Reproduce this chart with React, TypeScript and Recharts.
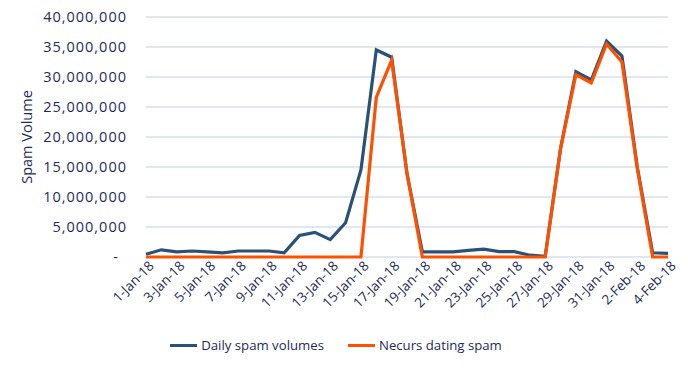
import React from 'react'
import { ComposedChart, Line, XAxis, YAxis, CartesianGrid, Legend } from 'recharts'

const BLUE = '#2a5276'
const ORANGE = '#ff5000'
const GRID = '#d5e1ee'
const TEXT = '#1c2b5a'
const FONT = '"Open Sans", sans-serif'

const DATES = [
  '1-Jan-18', '2-Jan-18', '3-Jan-18', '4-Jan-18', '5-Jan-18', '6-Jan-18', '7-Jan-18',
  '8-Jan-18', '9-Jan-18', '10-Jan-18', '11-Jan-18', '12-Jan-18', '13-Jan-18', '14-Jan-18',
  '15-Jan-18', '16-Jan-18', '17-Jan-18', '18-Jan-18', '19-Jan-18', '20-Jan-18', '21-Jan-18',
  '22-Jan-18', '23-Jan-18', '24-Jan-18', '25-Jan-18', '26-Jan-18', '27-Jan-18', '28-Jan-18',
  '29-Jan-18', '30-Jan-18', '31-Jan-18', '1-Feb-18', '2-Feb-18', '3-Feb-18', '4-Feb-18',
]

// daily spam volumes
const DAILY = [
  450000, 1200000, 850000, 1000000, 850000, 700000, 1000000,
  1000000, 1000000, 700000, 3600000, 4100000, 2900000, 5700000,
  14500000, 34500000, 33300000, 13900000, 850000, 850000, 850000,
  1100000, 1300000, 900000, 900000, 300000, 100000, 18100000,
  30900000, 29500000, 36000000, 33500000, 15000000, 700000, 600000,
]

// Necurs dating spam
const NECURS = [
  0, 0, 0, 0, 0, 0, 0,
  0, 0, 0, 0, 0, 0, 0,
  0, 26600000, 32800000, 13900000, 0, 0, 0,
  0, 0, 0, 0, 0, 0, 18000000,
  30400000, 29000000, 35500000, 32500000, 14700000, 0, 0,
]

const Y_TICKS = [0, 5000000, 10000000, 15000000, 20000000, 25000000, 30000000, 35000000, 40000000]

const data = DATES.map((d, i) => ({ date: d, daily: DAILY[i], necurs: NECURS[i] }))

function YTick({ x, y, payload }: any) {
  const v = payload.value as number
  const label = v === 0 ? '-' : v.toLocaleString('en-US')
  return (
    <text x={v === 0 ? x - 8 : x} y={y} dy="0.35em" textAnchor="end" letterSpacing={1}
      fill={TEXT} fontSize={14.5} fontFamily={FONT}>
      {label}
    </text>
  )
}

function XTick({ x, y, payload }: any) {
  return (
    <g transform={`translate(${x},${y})`}>
      <text x={5} y={-2} dy="0.7em" textAnchor="end" transform="rotate(-45)"
        fill={TEXT} fontSize={13.5} fontFamily={FONT}>
        {payload.value}
      </text>
    </g>
  )
}

function LegendBox() {
  const items = [
    { name: 'Daily spam volumes', color: BLUE },
    { name: 'Necurs dating spam', color: ORANGE },
  ]
  return (
    <div style={{ display: 'flex', justifyContent: 'center', gap: 24, fontFamily: FONT, fontSize: 13.2, color: TEXT, paddingLeft: 4 }}>
      {items.map((it) => (
        <span key={it.name} style={{ display: 'flex', alignItems: 'center', gap: 4 }}>
          <span style={{ display: 'inline-block', width: 27, height: 3, background: it.color }} />
          {it.name}
        </span>
      ))}
    </div>
  )
}

export default function App() {
  return (
    <div style={{ position: 'absolute', left: 0, top: 0, background: '#fff' }}>
      <ComposedChart width={688} height={368} data={data}
        margin={{ top: 17, right: 20, left: 0, bottom: 11 }}>
        {/* grid line at 0 doubles as the x axis line, kept under the series */}
        <CartesianGrid vertical={false} stroke={GRID} strokeWidth={1.5} />
        <XAxis dataKey="date" interval={1} tickLine={false} axisLine={false}
          height={70} tick={<XTick />} />
        <YAxis width={146} domain={[0, 40000000]} ticks={Y_TICKS} axisLine={false} tickLine={false}
          tickMargin={13} tick={<YTick />}
          label={{ value: 'Spam Volume', angle: -90, position: 'insideLeft', offset: 27,
            style: { fill: TEXT, fontSize: 14.5, fontFamily: FONT, textAnchor: 'middle' } }} />
        <Legend verticalAlign="bottom" height={30} content={<LegendBox />} wrapperStyle={{ bottom: 2 }} />
        <Line dataKey="daily" name="Daily spam volumes" stroke={BLUE} strokeWidth={3.2}
          dot={false} isAnimationActive={false} />
        <Line dataKey="necurs" name="Necurs dating spam" stroke={ORANGE} strokeWidth={3.2}
          dot={false} isAnimationActive={false} />
      </ComposedChart>
    </div>
  )
}
